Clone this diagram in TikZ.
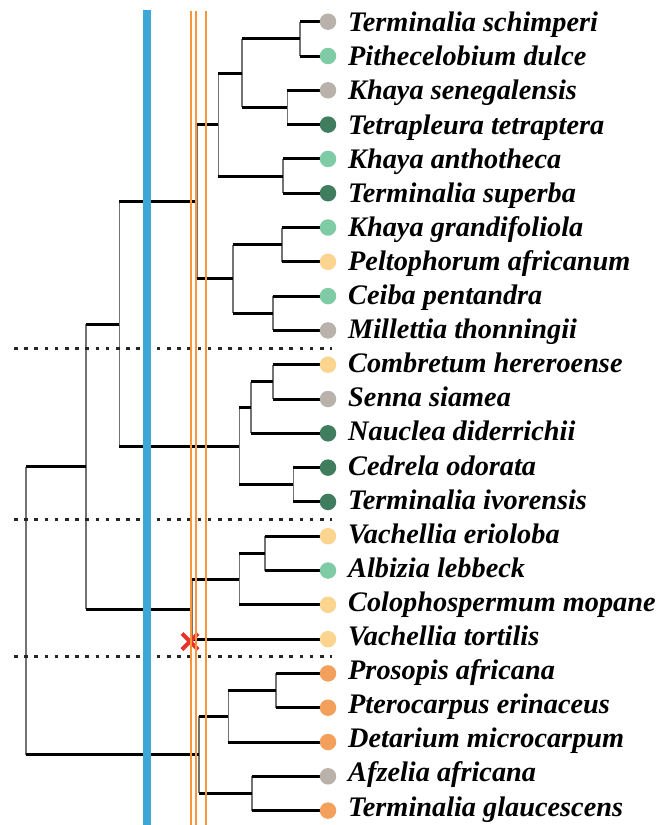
\documentclass[tikz,border=0pt]{standalone}
\usepackage{fontspec}
\setmainfont{Liberation Serif}
\definecolor{cgray}{HTML}{B8B2AA}
\definecolor{clgreen}{HTML}{7FCBA6}
\definecolor{cdgreen}{HTML}{3F7D5E}
\definecolor{cyellow}{HTML}{FBD590}
\definecolor{corange}{HTML}{F3A05C}
\definecolor{cblue}{HTML}{3DA8D8}
\definecolor{cline}{HTML}{F7963A}
\definecolor{cred}{HTML}{E8332B}
\newcommand\tvert[3]{\draw[vl] (#1 |- #2) -- (#1 |- #3);}
\newcommand\tedge[2]{\draw[hl] (#1 |- #2) -- (#2);}
\begin{document}
\begin{tikzpicture}[x=1pt,y=-1pt,
  hl/.style={line width=3pt,black},
  vl/.style={line width=1.6pt,black!55},
  leafdot/.style={circle,fill=#1,draw=none,inner sep=0pt,minimum size=16.5pt},
  lab/.style={anchor=base west,inner sep=0pt,font=\fontsize{28.3}{31}\selectfont\bfseries\itshape},
  sep/.style={line width=3pt,black!85,dash pattern=on 3.5pt off 6.7pt},
  bar/.style={line width=8pt,cblue},
  thin/.style={line width=2pt,cline}]
\useasboundingbox (0,0) rectangle (669,825);
% leaf positions
\foreach \i in {0,...,23}{\coordinate (c\i) at (328,{21.7+34.3*\i});}
% internal nodes
\coordinate (n01) at (300,38.85);
\coordinate (n23) at (287.3,107.45);
\coordinate (nA) at (241.7,73.15);
\coordinate (n45) at (282.7,176.05);
\coordinate (nB) at (218.3,124.6);
\coordinate (n67) at (281.7,244.65);
\coordinate (n89) at (272.7,313.25);
\coordinate (nC) at (232.7,278.95);
\coordinate (nD) at (197.3,201.8);
\coordinate (n1011) at (272.7,381.85);
\coordinate (n1012) at (250.7,407.6);
\coordinate (n1314) at (293.3,484.75);
\coordinate (nE) at (239.3,446.2);
\coordinate (nF) at (119.3,324);
\coordinate (n1516) at (265,553.35);
\coordinate (n1517) at (239.3,579.1);
\coordinate (nG) at (191.7,609.1);
\coordinate (nH) at (86,466.55);
\coordinate (n1920) at (276,690.55);
\coordinate (n1921) at (228.3,716.3);
\coordinate (n2223) at (251.7,793.45);
\coordinate (nI) at (199,754.9);
\coordinate (root) at (26,610.7);
% verticals
\tvert{n01}{c0}{c1}
\tvert{n23}{c2}{c3}
\tvert{nA}{n01}{n23}
\tvert{n45}{c4}{c5}
\tvert{nB}{nA}{n45}
\tvert{n67}{c6}{c7}
\tvert{n89}{c8}{c9}
\tvert{nC}{n67}{n89}
\tvert{nD}{nB}{nC}
\tvert{n1011}{c10}{c11}
\tvert{n1012}{n1011}{c12}
\tvert{n1314}{c13}{c14}
\tvert{nE}{n1012}{n1314}
\tvert{nF}{nD}{nE}
\tvert{n1516}{c15}{c16}
\tvert{n1517}{n1516}{c17}
\tvert{nG}{n1517}{c18}
\tvert{nH}{nF}{nG}
\tvert{n1920}{c19}{c20}
\tvert{n1921}{n1920}{c21}
\tvert{n2223}{c22}{c23}
\tvert{nI}{n1921}{n2223}
\tvert{root}{nH}{nI}
% horizontals
\tedge{n01}{c0}\tedge{n01}{c1}
\tedge{n23}{c2}\tedge{n23}{c3}
\tedge{nA}{n01}\tedge{nA}{n23}
\tedge{n45}{c4}\tedge{n45}{c5}
\tedge{nB}{nA}\tedge{nB}{n45}
\tedge{n67}{c6}\tedge{n67}{c7}
\tedge{n89}{c8}\tedge{n89}{c9}
\tedge{nC}{n67}\tedge{nC}{n89}
\tedge{nD}{nB}\tedge{nD}{nC}
\tedge{n1011}{c10}\tedge{n1011}{c11}
\tedge{n1012}{n1011}\tedge{n1012}{c12}
\tedge{n1314}{c13}\tedge{n1314}{c14}
\tedge{nE}{n1012}\tedge{nE}{n1314}
\tedge{nF}{nD}\tedge{nF}{nE}
\tedge{n1516}{c15}\tedge{n1516}{c16}
\tedge{n1517}{n1516}\tedge{n1517}{c17}
\tedge{nG}{n1517}\tedge{nG}{c18}
\tedge{nH}{nF}\tedge{nH}{nG}
\tedge{n1920}{c19}\tedge{n1920}{c20}
\tedge{n1921}{n1920}\tedge{n1921}{c21}
\tedge{n2223}{c22}\tedge{n2223}{c23}
\tedge{nI}{n1921}\tedge{nI}{n2223}
\tedge{root}{nH}\tedge{root}{nI}
% leaves: dots and labels
\foreach \i/\c/\t in {
 0/cgray/Terminalia schimperi,
 1/clgreen/Pithecelobium dulce,
 2/cgray/Khaya senegalensis,
 3/cdgreen/Tetrapleura tetraptera,
 4/clgreen/Khaya anthotheca,
 5/cdgreen/Terminalia superba,
 6/clgreen/Khaya grandifoliola,
 7/cyellow/Peltophorum africanum,
 8/clgreen/Ceiba pentandra,
 9/cgray/Millettia thonningii,
 10/cyellow/Combretum hereroense,
 11/cgray/Senna siamea,
 12/cdgreen/Nauclea diderrichii,
 13/cdgreen/Cedrela odorata,
 14/cdgreen/Terminalia ivorensis,
 15/cyellow/Vachellia erioloba,
 16/clgreen/Albizia lebbeck,
 17/cyellow/Colophospermum mopane,
 18/cyellow/Vachellia tortilis,
 19/corange/Prosopis africana,
 20/corange/Pterocarpus erinaceus,
 21/corange/Detarium microcarpum,
 22/cgray/Afzelia africana,
 23/corange/Terminalia glaucescens}{
 \node[leafdot=\c] (l\i) at (c\i) {};
 \node[lab] (t\i) at (348,{31.7+34.1*\i}) {\t};
}
% separators
\coordinate (s1a) at (14,348.3); \coordinate (s1b) at (332,348.3);
\coordinate (s2a) at (14,519.3); \coordinate (s2b) at (332,519.3);
\coordinate (s3a) at (14,656.7); \coordinate (s3b) at (332,656.7);
\draw[sep] (s1a) -- (s1b);
\draw[sep] (s2a) -- (s2b);
\draw[sep] (s3a) -- (s3b);
% red cross
\coordinate (x) at (190,641.5);
\draw[cred,line width=4pt] ([xshift=-8pt,yshift=-8pt]x) -- ([xshift=8pt,yshift=8pt]x)
  ([xshift=-8pt,yshift=8pt]x) -- ([xshift=8pt,yshift=-8pt]x);
% blue bar and orange lines
\coordinate (b0) at (147,10); \coordinate (b1) at (147,825);
\draw[bar] (b0) -- (b1);
\foreach \xx in {190.7,196,206.3}{\draw[thin] (\xx,11) -- (\xx,825);}
\end{tikzpicture}
\end{document}
